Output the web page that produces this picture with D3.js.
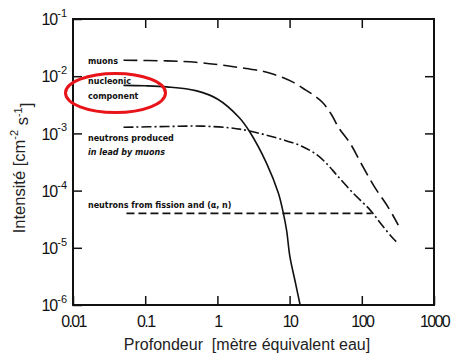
<!DOCTYPE html>
<html>
<head>
<meta charset="utf-8">
<script src="https://cdn.jsdelivr.net/npm/d3@7"></script>
<style>
  body { margin: 0; background: #fff; }
  svg { display: block; }
</style>
</head>
<body>
<script>
'use strict';

// depth in metres water equivalent / intensity in cm^-2 s^-1
let muonDepth = [0.05, 0.2, 0.5, 1, 2, 4.1, 6, 8.2, 11.3, 15.5, 21.3, 29.3, 38.3, 48, 70, 95, 150, 230, 320];
let muonFlux = [1.9e-2, 1.85e-2, 1.75e-2, 1.6e-2, 1.42e-2, 1.23e-2, 1.08e-2, 9.4e-3, 7.8e-3, 6.1e-3, 4.7e-3, 3.36e-3, 2.1e-3, 1.25e-3, 6.5e-4, 3.2e-4, 1.16e-4, 5.2e-5, 2.5e-5];

let nucleonDepth = [0.05, 0.1, 0.2, 0.5, 1, 2, 2.8, 4.8, 7, 8.2, 9.1, 10.1, 12, 14];
let nucleonFlux = [6.9e-3, 6.8e-3, 6.5e-3, 5.6e-3, 4e-3, 1.9e-3, 1.07e-3, 3e-4, 9e-5, 4e-5, 2e-5, 7e-6, 2.5e-6, 1e-6];

let leadDepth = [0.05, 0.2, 0.6, 1.5, 2.8, 8.2, 15, 24, 34, 45, 76, 130, 190, 270, 316];
let leadFlux = [1.28e-3, 1.32e-3, 1.34e-3, 1.25e-3, 1.1e-3, 7.7e-4, 5.9e-4, 4.2e-4, 2.8e-4, 1.87e-4, 9e-5, 4.6e-5, 2.5e-5, 1.47e-5, 1.2e-5];

let fissionDepth = [0.055, 137];
let fissionFlux = [4e-5, 4e-5];

let xTicks = [0.01, 0.1, 1, 10, 100, 1000];
let xTickLabels = ['0.01', '0.1', '1', '10', '100', '1000'];
let yTicks = [1e-1, 1e-2, 1e-3, 1e-4, 1e-5, 1e-6];
let yTickExponents = ['-1', '-2', '-3', '-4', '-5', '-6'];

let w = 451, h = 356;
let mLeft = 73, mRight = 434, mTop = 19, mBottom = 305;

let svg = d3.select('body')
    .append('svg')
    .attr('width', w)
    .attr('height', h);

let x = d3.scaleLog().domain([0.01, 1000]).range([mLeft, mRight]);
let y = d3.scaleLog().domain([1e-6, 1e-1]).range([mBottom, mTop]);

let tickFont = 'Liberation Sans, Arial, sans-serif';

// bottom axis with labels
let gx = svg.append('g')
    .attr('transform', 'translate(0,' + mBottom + ')')
    .call(d3.axisBottom(x)
        .tickValues(xTicks)
        .tickFormat((d, i) => xTickLabels[i])
        .tickSizeInner(-9)
        .tickSizeOuter(0)
        .tickPadding(11));

// left axis with labels
let gy = svg.append('g')
    .attr('transform', 'translate(' + mLeft + ',0)')
    .call(d3.axisLeft(y)
        .tickValues(yTicks)
        .tickFormat('')
        .tickSizeInner(-9)
        .tickSizeOuter(0)
        .tickPadding(6));

// top and right ticks only
svg.append('g')
    .attr('transform', 'translate(0,' + mTop + ')')
    .call(d3.axisTop(x)
        .tickValues(xTicks.slice(1, -1))
        .tickFormat('')
        .tickSizeInner(-9)
        .tickSizeOuter(0));

svg.append('g')
    .attr('transform', 'translate(' + mRight + ',0)')
    .call(d3.axisRight(y)
        .tickValues(yTicks.slice(1, -1))
        .tickFormat('')
        .tickSizeInner(-9)
        .tickSizeOuter(0));

svg.selectAll('.domain').remove();
svg.selectAll('.tick line')
    .attr('stroke', '#111')
    .attr('stroke-width', 1.5);

gx.selectAll('.tick text')
    .attr('font-family', tickFont)
    .attr('font-size', '16px')
    .attr('letter-spacing', '-1.6px')
    .attr('fill', '#111');

gy.selectAll('.tick text')
    .attr('font-family', tickFont)
    .attr('font-size', '16px')
    .attr('fill', '#111')
    .attr('dy', '0.36em')
    .each(function(d, i) {
        let t = d3.select(this);
        t.append('tspan').text('10').attr('letter-spacing', '-1px');
        t.append('tspan')
            .text(yTickExponents[i])
            .attr('font-size', '11px')
            .attr('dy', '-0.75em');
    });

// frame
svg.append('rect')
    .attr('x', mLeft)
    .attr('y', mTop)
    .attr('width', mRight - mLeft)
    .attr('height', mBottom - mTop)
    .attr('fill', 'none')
    .attr('stroke', '#111')
    .attr('stroke-width', 2);

// curves
let line = d3.line()
    .x(d => x(d[0]))
    .y(d => y(d[1]))
    .curve(d3.curveCatmullRom.alpha(0.5));

let curves = [
    { depth: muonDepth, flux: muonFlux, dash: '14,6' },
    { depth: nucleonDepth, flux: nucleonFlux, dash: null },
    { depth: leadDepth, flux: leadFlux, dash: '10,3,2,3' },
    { depth: fissionDepth, flux: fissionFlux, dash: '8,4' }
];

svg.selectAll('path.curve')
    .data(curves)
    .enter()
    .append('path')
    .attr('class', 'curve')
    .attr('d', c => line(d3.zip(c.depth, c.flux)))
    .attr('fill', 'none')
    .attr('stroke', '#111')
    .attr('stroke-width', 1.6)
    .attr('stroke-dasharray', c => c.dash);

// annotations
let notes = [
    { text: 'muons', x: 88, y: 64, italic: false },
    { text: 'nucleonic', x: 88, y: 84, italic: false },
    { text: 'component', x: 88, y: 99, italic: false },
    { text: 'neutrons produced', x: 88, y: 141, italic: false },
    { text: 'in lead by muons', x: 88, y: 155, italic: true },
    { text: 'neutrons from fission and (α, n)', x: 88, y: 208, italic: false }
];

svg.selectAll('text.note')
    .data(notes)
    .enter()
    .append('text')
    .attr('class', 'note')
    .attr('x', d => d.x)
    .attr('y', d => d.y)
    .attr('font-family', 'DejaVu Sans, sans-serif')
    .attr('font-size', '8px')
    .attr('font-weight', 'bold')
    .attr('font-style', d => d.italic ? 'italic' : 'normal')
    .attr('fill', '#111')
    .text(d => d.text);

// red highlight
svg.append('ellipse')
    .attr('cx', 115.5)
    .attr('cy', 93)
    .attr('rx', 50)
    .attr('ry', 19.5)
    .attr('fill', 'none')
    .attr('stroke', '#e8141a')
    .attr('stroke-width', 3);

// axis titles
svg.append('text')
    .attr('x', 247)
    .attr('y', 350)
    .attr('text-anchor', 'middle')
    .attr('font-family', tickFont)
    .attr('font-size', '16px')
    .attr('fill', '#222')
    .attr('xml:space', 'preserve')
    .text('Profondeur  [mètre équivalent eau]');

let yt = svg.append('text')
    .attr('transform', 'translate(25,168) rotate(-90)')
    .attr('text-anchor', 'middle')
    .attr('font-family', tickFont)
    .attr('font-size', '16.5px')
    .attr('fill', '#222');
yt.append('tspan').text('Intensité [cm');
yt.append('tspan').text('-2').attr('font-size', '11px').attr('dy', '-0.6em');
yt.append('tspan').text(' s').attr('dy', '0.6em');
yt.append('tspan').text('-1').attr('font-size', '11px').attr('dy', '-0.6em');
yt.append('tspan').text(']').attr('dy', '0.6em');
</script>
</body>
</html>
